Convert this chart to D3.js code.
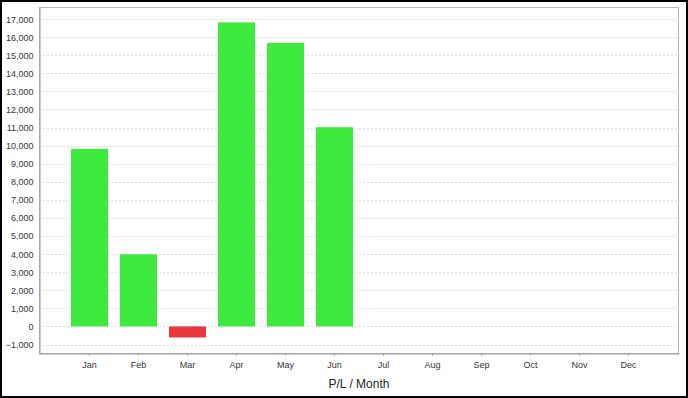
<!DOCTYPE html>
<html>
<head>
<meta charset="utf-8">
<script src="https://cdn.jsdelivr.net/npm/d3@7"></script>
<style>
  body { margin: 0; background: #fff; }
  svg { display: block; }
  text { font-family: "Liberation Sans", Arial, sans-serif; }
</style>
</head>
<body>
<svg id="chart" width="688" height="398"></svg>
<script>
// P/L per month
var months = ["Jan", "Feb", "Mar", "Apr", "May", "Jun", "Jul", "Aug", "Sep", "Oct", "Nov", "Dec"];
var pl = [9820, 3990, -610, 16820, 15680, 11020, null, null, null, null, null, null];
var yTicks = [-1000, 0, 1000, 2000, 3000, 4000, 5000, 6000, 7000, 8000, 9000,
              10000, 11000, 12000, 13000, 14000, 15000, 16000, 17000];

var width = 688, height = 398;
var plot = {left: 39, top: 7, right: 679, bottom: 353};

var svg = d3.select("#chart");

// outer frame
svg.append("rect")
    .attr("x", 1).attr("y", 1)
    .attr("width", width - 2).attr("height", height - 2)
    .attr("fill", "#fff")
    .attr("stroke", "#000")
    .attr("stroke-width", 2);

var x = d3.scaleBand()
    .domain(months)
    .range([plot.left, plot.right])
    .paddingInner(0.245)
    .paddingOuter(0.653);

var y = d3.scaleLinear()
    .domain([-1470, 17670])
    .range([plot.bottom, plot.top]);

// gridlines
svg.append("g")
    .selectAll("line")
    .data(yTicks)
    .join("line")
    .attr("x1", plot.left)
    .attr("x2", plot.right)
    .attr("y1", d => Math.round(y(d)) + 0.5)
    .attr("y2", d => Math.round(y(d)) + 0.5)
    .attr("stroke", "#dedede")
    .attr("stroke-dasharray", "2,2");

// bars
svg.append("g")
    .selectAll("rect")
    .data(months.map((m, i) => ({month: m, value: pl[i]})).filter(d => d.value !== null))
    .join("rect")
    .attr("x", d => x(d.month))
    .attr("width", x.bandwidth())
    .attr("y", d => y(Math.max(0, d.value)))
    .attr("height", d => Math.abs(y(d.value) - y(0)))
    .attr("fill", d => d.value >= 0 ? "#3dea3d" : "#e8383d");

// plot frame (top, right) and axes (left, bottom)
svg.append("rect")
    .attr("x", plot.left + 0.5).attr("y", plot.top + 0.5)
    .attr("width", plot.right - plot.left - 1)
    .attr("height", plot.bottom - plot.top)
    .attr("fill", "none")
    .attr("stroke", "#b8b8b8");

var yAxis = svg.append("g")
    .attr("transform", "translate(" + (plot.left + 0.5) + ",0)")
    .call(d3.axisLeft(y).tickValues(yTicks).tickSize(0).tickPadding(6)
        .tickFormat(d3.format(",")));
yAxis.select(".domain").attr("stroke", "#999");
yAxis.selectAll("text")
    .attr("fill", "#333")
    .style("font-size", "9px")
    .style("font-family", "'Liberation Sans', Arial, sans-serif");

var xAxis = svg.append("g")
    .attr("transform", "translate(0," + (plot.bottom + 0.5) + ")")
    .call(d3.axisBottom(x).tickSize(2).tickPadding(6).tickSizeOuter(0));
xAxis.select(".domain").attr("stroke", "#999");
xAxis.selectAll(".tick line").attr("stroke", "#999");
xAxis.selectAll("text")
    .attr("fill", "#333")
    .style("font-size", "9px")
    .style("font-family", "'Liberation Sans', Arial, sans-serif");

// axis title
svg.append("text")
    .attr("x", (plot.left + plot.right) / 2)
    .attr("y", 388)
    .attr("text-anchor", "middle")
    .attr("fill", "#222")
    .style("font-size", "12px")
    .text("P/L / Month");
</script>
</body>
</html>
